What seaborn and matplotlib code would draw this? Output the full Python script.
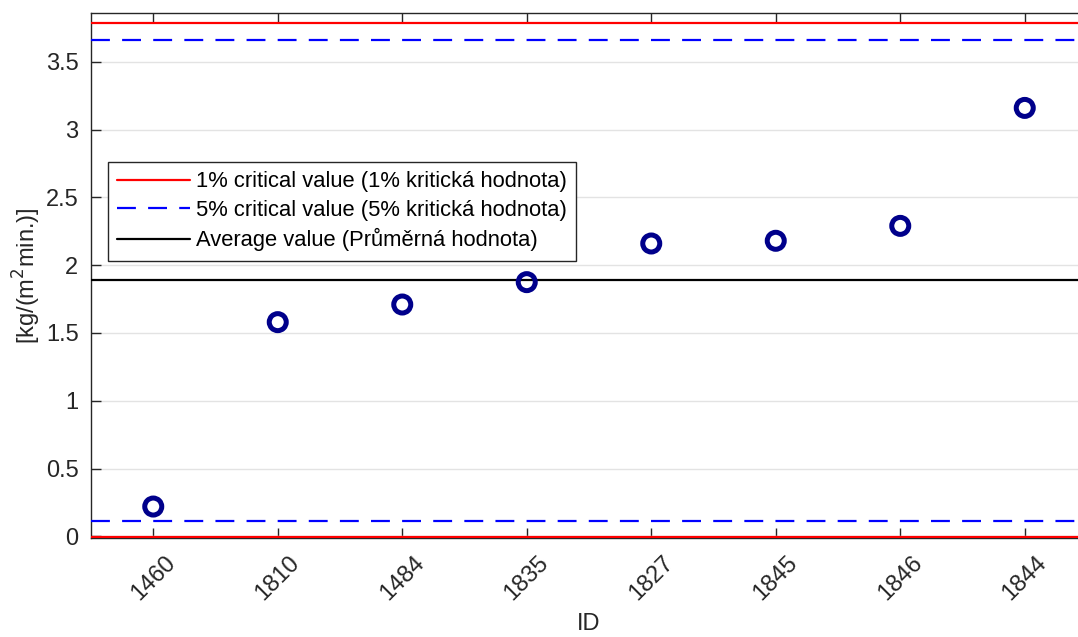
import matplotlib
matplotlib.use("Agg")
import matplotlib.pyplot as plt
import seaborn as sns
import pandas as pd

ids = ["1460", "1810", "1484", "1835", "1827", "1845", "1846", "1844"]
values = [0.22, 1.58, 1.71, 1.875, 2.16, 2.18, 2.29, 3.16]
crit1_upper = 3.787
crit1_lower = -0.008
crit5_upper = 3.66
crit5_lower = 0.115
average = 1.89
ytick_values = [0, 0.5, 1, 1.5, 2, 2.5, 3, 3.5]
ytick_labels = ["0", "0.5", "1", "1.5", "2", "2.5", "3", "3.5"]

sns.set_theme(style="white")
plt.rcParams['font.family'] = ['Liberation Sans', 'DejaVu Sans']

df = pd.DataFrame({"ID": ids, "value": values})

fig = plt.figure(figsize=(10.78, 6.37), dpi=100)
ax = fig.add_axes([91/1078, 1 - 538/637, (1087-91)/1078, (538-13)/637])

dash = (0, (8.5, 5.5))
ax.axhline(crit1_upper, color="#ff0000", lw=1.6, label="1% critical value (1% kritická hodnota)", zorder=3)
ax.axhline(crit5_upper, color="#0000ff", lw=1.6, ls=dash, label="5% critical value (5% kritická hodnota)", zorder=3)
ax.axhline(average, color="black", lw=1.6, label="Average value (Průměrná hodnota)", zorder=3)
ax.axhline(crit1_lower, color="#ff0000", lw=1.6, zorder=3)
ax.axhline(crit5_lower, color="#0000ff", lw=1.6, ls=dash, zorder=3)

sns.scatterplot(data=df, x="ID", y="value", ax=ax, marker="o", s=150,
                facecolor="none", edgecolor="#00008b", linewidth=3.6, zorder=4, legend=False)

ax.set_xlim(-0.5, 7.5)
ax.set_ylim(-0.012, 3.86)
ax.set_yticks(ytick_values)
ax.set_yticklabels(ytick_labels)
ax.grid(axis="y", color="#e3e3e3", lw=1.0)
ax.set_axisbelow(True)

for s in ["left", "bottom", "top"]:
    ax.spines[s].set_visible(True)
    ax.spines[s].set_color("#262626")
    ax.spines[s].set_linewidth(1.0)
ax.spines["right"].set_visible(False)

ax.tick_params(axis="both", direction="in", length=7, width=1, color="#262626",
               labelsize=17, labelcolor="#262626")
ax.tick_params(axis="x", top=True, bottom=True, pad=10)
ax.tick_params(axis="y", left=True, pad=9)
plt.setp(ax.get_xticklabels(), rotation=45, ha="center", rotation_mode="default")

ax.set_xlabel("ID", fontsize=17, color="#262626", labelpad=6)
ax.set_ylabel("[kg/(m$^2$min.)]", fontsize=17, color="#262626", labelpad=2)

leg = ax.legend(loc="upper left", bbox_to_anchor=(0.017, 0.716), fontsize=15.8,
                frameon=True, fancybox=False, edgecolor="#262626", framealpha=1,
                handlelength=3.3, handletextpad=0.3, borderpad=0.42, labelspacing=0.34,
                borderaxespad=0)
leg.get_frame().set_linewidth(1.0)
for t in leg.get_texts():
    t.set_color("black")

fig.savefig("out.png", dpi=100)
